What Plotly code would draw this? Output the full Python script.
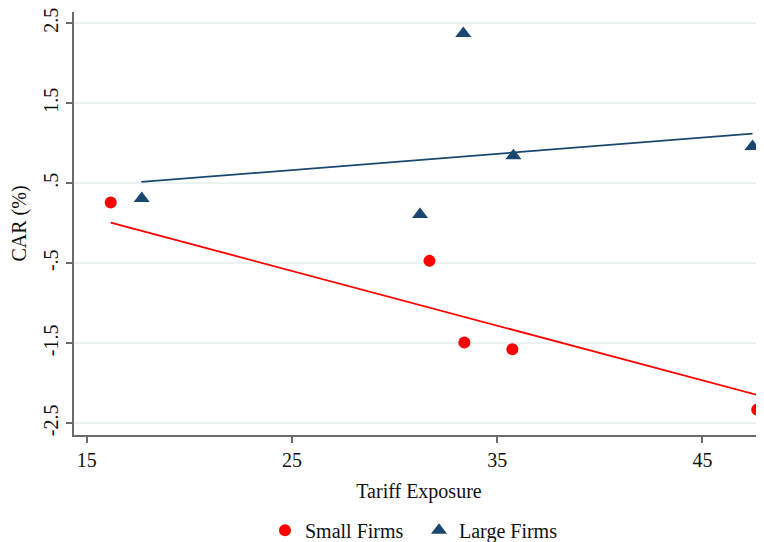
import plotly.graph_objects as go

# Data
small_x = [16.17, 31.70, 33.40, 35.74, 47.67]
small_y = [0.26, -0.47, -1.49, -1.575, -2.33]
large_x = [17.68, 33.35, 35.79, 31.24, 47.44]
large_y = [0.31, 2.37, 0.845, 0.11, 0.96]

# Fitted-line endpoints (as drawn in the reference)
small_fit_x = [16.17, 47.67]
small_fit_y = [0.008, -2.146]
large_fit_x = [17.66, 47.44]
large_fit_y = [0.516, 1.12]

x_ticks = [15, 25, 35, 45]
y_ticks = [2.5, 1.5, 0.5, -0.5, -1.5, -2.5]
y_ticklabels = ["2.5", "1.5", ".5", "-.5", "-1.5", "-2.5"]

RED = "#ff0000"
NAVY = "#1a476f"
FONT = "Liberation Serif"
FS = 20

fig = go.Figure()
fig.add_trace(go.Scatter(x=small_fit_x, y=small_fit_y, mode="lines",
                         line=dict(color=RED, width=1.8), showlegend=False, hoverinfo="skip"))
fig.add_trace(go.Scatter(x=large_fit_x, y=large_fit_y, mode="lines",
                         line=dict(color=NAVY, width=1.8), showlegend=False, hoverinfo="skip"))
fig.add_trace(go.Scatter(x=small_x, y=small_y, mode="markers", name="Small Firms",
                         marker=dict(symbol="circle", size=12, color=RED), cliponaxis=False))
fig.add_trace(go.Scatter(x=large_x, y=large_y, mode="markers", name="Large Firms",
                         marker=dict(symbol="triangle-up", size=14, color=NAVY), cliponaxis=False))

fig.update_layout(
    width=756, height=534,
    margin=dict(l=66, r=0, t=4, b=107, autoexpand=False),
    paper_bgcolor="white", plot_bgcolor="white",
    font=dict(family=FONT, size=FS, color="#111111"),
    showlegend=True,
    legend=dict(orientation="h", x=0.5, xanchor="center", y=-0.225, yanchor="middle",
                font=dict(family=FONT, size=FS), itemwidth=30, tracegroupgap=0,
                entrywidth=109, entrywidthmode="pixels"),
    xaxis=dict(range=[14.38, 48.0], tickvals=x_ticks, showgrid=False, zeroline=False,
               automargin=False, ticklabeloverflow="allow",
               showline=True, linecolor="#6a6a6a", linewidth=1.5,
               ticks="outside", ticklen=6, tickcolor="#6a6a6a", tickwidth=1.5,
               tickfont=dict(family=FONT, size=FS),
               title=dict(text="Tariff Exposure", font=dict(family=FONT, size=FS), standoff=14)),
    yaxis=dict(range=[-2.646, 2.64], tickvals=y_ticks, ticktext=y_ticklabels, tickangle=-90,
               automargin=False, ticklabeloverflow="allow",
               showgrid=True, gridcolor="#eaf2f3", gridwidth=2, zeroline=False,
               showline=True, linecolor="#6a6a6a", linewidth=1.5,
               ticks="outside", ticklen=6, tickcolor="#6a6a6a", tickwidth=1.5,
               tickfont=dict(family=FONT, size=FS),
               title=dict(text="CAR (%)", font=dict(family=FONT, size=FS), standoff=8)),
)

fig.write_html("out.html")
